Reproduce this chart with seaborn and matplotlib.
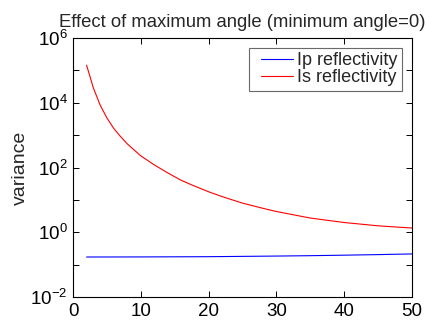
import numpy as np
import pandas as pd
import matplotlib
matplotlib.use("Agg")
import matplotlib.pyplot as plt
import matplotlib.ticker as mticker
from matplotlib.lines import Line2D
from matplotlib.legend_handler import HandlerLine2D
import seaborn as sns

# Maximum angle (degrees) and variance of each reflectivity estimate
angle_is = [2, 3, 4, 5, 6, 7, 8, 10, 12, 14, 16, 18, 20, 22, 25, 28, 30, 35, 40, 45, 50]
var_is = [1.45e5, 2.88e4, 8.5e3, 3.39e3, 1.62e3, 910, 537, 229, 120, 67.6, 39.8,
          26.3, 17.8, 12.6, 7.94, 5.5, 4.37, 2.75, 2.0, 1.58, 1.35]
angle_ip = [2, 10, 20, 25, 30, 35, 40, 45, 50]
var_ip = [0.172, 0.173, 0.176, 0.180, 0.184, 0.189, 0.196, 0.204, 0.214]

series_names = ["Ip reflectivity", "Is reflectivity"]
series_colors = ["#0000ff", "#ff0000"]

df = pd.concat([
    pd.DataFrame({"angle": angle_ip, "variance": var_ip, "series": series_names[0]}),
    pd.DataFrame({"angle": angle_is, "variance": var_is, "series": series_names[1]}),
])

sns.set_theme(style="ticks")
plt.rcParams["font.family"] = ["Liberation Sans", "DejaVu Sans"]
plt.rcParams["mathtext.fontset"] = "custom"
plt.rcParams["mathtext.rm"] = "Liberation Sans"
plt.rcParams["mathtext.it"] = "Liberation Sans"

fig = plt.figure(figsize=(4.25, 3.24), dpi=100)
ax = fig.add_axes([0.1718, 0.0833, 0.7976, 0.7994])

sns.lineplot(data=df, x="angle", y="variance", hue="series",
             palette=dict(zip(series_names, series_colors)),
             linewidth=0.8, ax=ax, legend=True)

ax.set_yscale("log")
ax.set_xlim(0, 50)
ax.set_ylim(1e-2, 1e6)
ax.set_xticks([0, 10, 20, 30, 40, 50])
ax.yaxis.set_major_locator(mticker.FixedLocator([1e-2, 1e0, 1e2, 1e4, 1e6]))
ax.yaxis.set_minor_locator(mticker.FixedLocator([1e-1, 1e1, 1e3, 1e5]))
ax.yaxis.set_major_formatter(mticker.LogFormatterSciNotation())
ax.yaxis.set_minor_formatter(mticker.NullFormatter())

for spine in ax.spines.values():
    spine.set_visible(True)
    spine.set_color("black")
    spine.set_linewidth(0.8)

ax.tick_params(which="both", direction="in", top=True, right=True,
               length=4, width=0.7, color="black", labelsize=13.5,
               labelcolor="black", pad=4)

ax.set_xlabel("")
ax.set_ylabel("variance", fontsize=14, labelpad=1)
ax.set_title("Effect of maximum angle (minimum angle=0)", fontsize=13.3, pad=8)

leg = ax.legend(loc="upper right", fontsize=13, frameon=True, fancybox=False,
                handlelength=2.6, handletextpad=-0.19, borderpad=0.25,
                labelspacing=0.0, borderaxespad=0.55,
                handler_map={Line2D: HandlerLine2D(marker_pad=0.42, numpoints=2)})
leg.get_frame().set_edgecolor("#444444")
leg.get_frame().set_linewidth(0.8)
for line in leg.get_lines():
    line.set_linewidth(0.8)

fig.savefig("out.png", dpi=100)
